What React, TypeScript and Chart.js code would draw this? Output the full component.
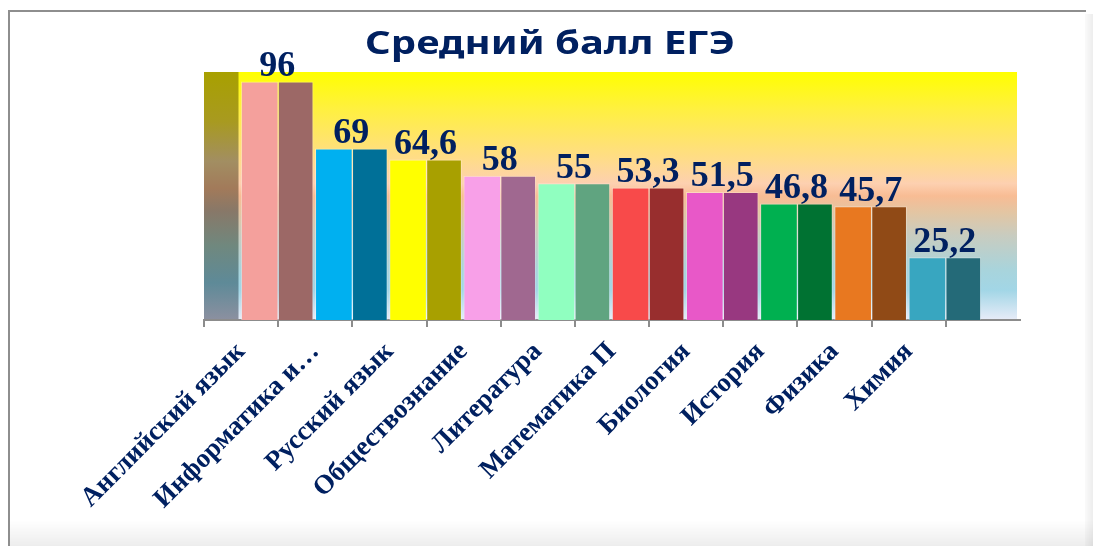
import React, { useEffect, useRef } from 'react';
import { Chart, registerables } from 'chart.js';

Chart.register(...registerables);

const TITLE = 'Средний балл ЕГЭ';
const categories = [
  'Английский язык',
  'Информатика и…',
  'Русский язык',
  'Обществознание',
  'Литература',
  'Математика П',
  'Биология',
  'История',
  'Физика',
  'Химия',
];
const scores = [96, 69, 64.6, 58, 55, 53.3, 51.5, 46.8, 45.7, 25.2];
const frontColors = ['#F4A09C', '#00B0F0', '#FFFF00', '#F8A0E8', '#90FFC0', '#F84A4A', '#E858C8', '#00B050', '#E87820', '#38A6C0'];
const sideColors = ['#9C6866', '#007098', '#A8A000', '#A06890', '#60A480', '#982E2E', '#983880', '#007232', '#904A16', '#246A78'];
const Y_MIN = 0;
const Y_MAX = 100;

const W = 1093;
const H = 546;
const NAVY = '#002060';
const AXIS_GRAY = '#8c8c8c';

// slots on the bar axis: an empty slot before and after the categories
const barSlots = ['', ...categories, ''];
const frontData = [null, ...scores, null];
const sideData = [null, ...scores, null];
const pad = (arr: string[]) => ['rgba(0,0,0,0)', ...arr, 'rgba(0,0,0,0)'];

const fmt = (v: number) => String(v).replace('.', ',');

const decorPlugin = {
  id: 'decor',
  beforeDraw(chart: any) {
    const { ctx, chartArea } = chart;
    const { left, right, top, bottom } = chartArea;
    ctx.save();
    const g = ctx.createLinearGradient(0, top, 0, bottom);
    g.addColorStop(0, '#FFFF00');
    g.addColorStop(0.15, '#FFF040');
    g.addColorStop(0.35, '#FFDC88');
    g.addColorStop(0.45, '#FDD0B0');
    g.addColorStop(0.5, '#F8BC94');
    g.addColorStop(0.57, '#E2C6A4');
    g.addColorStop(0.66, '#C8CCC0');
    g.addColorStop(0.8, '#A8D4DC');
    g.addColorStop(0.88, '#A2D6E6');
    g.addColorStop(1, '#E8ECF8');
    ctx.fillStyle = g;
    ctx.fillRect(left, top, right - left - 3, bottom - top);

    const w = ctx.createLinearGradient(0, top, 0, bottom);
    w.addColorStop(0, '#A8A000');
    w.addColorStop(0.2, '#A89A20');
    w.addColorStop(0.36, '#A28E62');
    w.addColorStop(0.47, '#A27A5A');
    w.addColorStop(0.56, '#887868');
    w.addColorStop(0.7, '#70887E');
    w.addColorStop(0.85, '#5E8A98');
    w.addColorStop(1, '#8C90A0');
    ctx.fillStyle = w;
    ctx.fillRect(left, top, 34.5, bottom - top);
    ctx.restore();
  },
  afterDatasetsDraw(chart: any) {
    const { ctx } = chart;
    const meta = chart.getDatasetMeta(0);
    ctx.save();
    ctx.fillStyle = NAVY;
    ctx.font = 'bold 36px "Liberation Serif", "Times New Roman", serif';
    ctx.textAlign = 'center';
    ctx.textBaseline = 'alphabetic';
    meta.data.forEach((el: any, i: number) => {
      const v = frontData[i];
      if (v == null) return;
      const x = el.x + el.width / 2 - 1;
      ctx.fillText(fmt(v), x, el.y - 6);
    });
    ctx.restore();
  },
  afterDraw(chart: any) {
    const { ctx } = chart;
    ctx.save();
    ctx.fillStyle = NAVY;
    ctx.font = 'bold 32px "Noto Sans", "Open Sans", sans-serif';
    ctx.textAlign = 'center';
    ctx.textBaseline = 'alphabetic';
    const tw = ctx.measureText(TITLE).width;
    const sx = 370 / tw;
    ctx.translate(550, 54);
    ctx.scale(sx, 1);
    ctx.fillText(TITLE, 0, 0);
    ctx.restore();
  },
};

export default function App() {
  const ref = useRef<HTMLCanvasElement | null>(null);

  useEffect(() => {
    if (!ref.current) return;
    const chart = new Chart(ref.current, {
      type: 'bar',
      data: {
        labels: barSlots,
        datasets: [
          {
            label: 'front',
            data: frontData,
            backgroundColor: pad(frontColors),
            borderColor: 'rgba(255,255,255,0.35)',
            borderWidth: 1,
            barThickness: 37,
            xAxisID: 'x',
            yAxisID: 'y',
          },
          {
            label: 'side',
            data: sideData,
            backgroundColor: pad(sideColors),
            borderColor: 'rgba(255,255,255,0.25)',
            borderWidth: 1,
            barThickness: 35,
            xAxisID: 'x',
            yAxisID: 'y',
          },
        ],
      },
      options: {
        responsive: false,
        animation: false,
        devicePixelRatio: 1,
        layout: { padding: { left: 204, right: W - 1020, top: 72, bottom: 0 } },
        plugins: {
          legend: { display: false },
          tooltip: { enabled: false },
          title: { display: false },
        },
        scales: {
          x: {
            type: 'category',
            labels: barSlots,
            offset: false,
            display: false,
          },
          xl: {
            type: 'category',
            position: 'bottom',
            labels: [...categories, ''],
            offset: true,
            afterFit: (scale: any) => {
              scale.height = H - 320;
            },
            grid: {
              offset: true,
              drawOnChartArea: false,
              drawTicks: true,
              tickLength: 7,
              lineWidth: 2,
              tickColor: (c: any) => (c.type === 'tick' ? AXIS_GRAY : 'rgba(0,0,0,0)'),
              color: AXIS_GRAY,
            },
            border: { display: true, color: AXIS_GRAY, width: 2 },
            ticks: {
              autoSkip: false,
              minRotation: 45,
              maxRotation: 45,
              padding: 9,
              color: NAVY,
              font: { family: '"Liberation Serif", "Times New Roman", serif', size: 27, weight: 'bold' },
            },
          },
          y: {
            display: false,
            min: Y_MIN,
            max: Y_MAX,
          },
        },
      },
      plugins: [decorPlugin],
    });
    return () => chart.destroy();
  }, []);

  return (
    <div style={{ position: 'absolute', left: 0, top: 0, width: W, height: H, background: '#fff', overflow: 'hidden' }}>
      <canvas ref={ref} width={W} height={H} style={{ position: 'absolute', left: 0, top: 0, width: W, height: H }} />
      <div
        style={{
          position: 'absolute',
          left: 8,
          top: 10,
          width: 1076,
          height: 600,
          borderTop: '2px solid #8e8e8e',
          borderLeft: '2px solid #8e8e8e',
          pointerEvents: 'none',
        }}
      />
      <div
        style={{
          position: 'absolute',
          left: 10,
          right: 0,
          top: 520,
          bottom: 0,
          background: 'linear-gradient(to bottom, rgba(0,0,0,0), rgba(0,0,0,0.07))',
          pointerEvents: 'none',
        }}
      />
      <div
        style={{
          position: 'absolute',
          left: 1085,
          width: 8,
          top: 14,
          bottom: 0,
          background: 'linear-gradient(to right, rgba(0,0,0,0.02), rgba(0,0,0,0.07))',
          pointerEvents: 'none',
        }}
      />
    </div>
  );
}
